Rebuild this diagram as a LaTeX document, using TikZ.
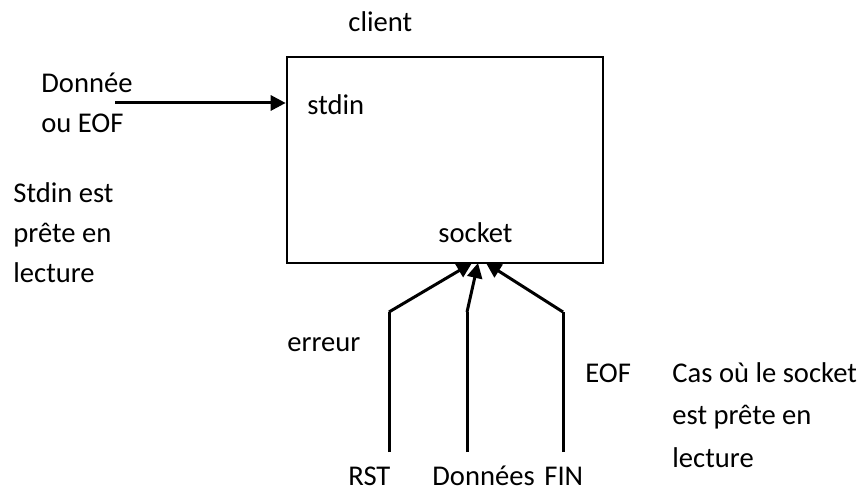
\documentclass[tikz,border=0pt]{standalone}
\usepackage{fontspec}
\setmainfont{Carlito}
\usetikzlibrary{arrows.meta}
\begin{document}
\begin{tikzpicture}[x=0.5pt,y=-0.5pt,
  lbl/.style={anchor=base west,inner sep=0pt,font=\fontsize{14.3}{17}\selectfont},
  frame/.style={draw,line width=1.3pt,minimum width=158pt,minimum height=103pt,inner sep=0pt},
  arr/.style={line width=1.5pt,-{Triangle[length=7.5pt,width=7.5pt]}},
  wire/.style={line width=1.5pt}]
\useasboundingbox (0,0) rectangle (865,490);
\node[frame] (box) at (445,160) {};
\node[lbl] (client) at (348,32) {client};
\node[lbl] (stdin) at (307,115) {stdin};
\node[lbl] (socket) at (438,243) {socket};
\node[lbl] (d1) at (41,93) {Donnée};
\node[lbl] (d2) at (41,133) {ou EOF};
\node[lbl] (s1) at (13,203) {Stdin est};
\node[lbl] (s2) at (13,243) {prête en};
\node[lbl] (s3) at (13,283) {lecture};
\node[lbl] (err) at (287,352) {erreur};
\node[lbl] (eof) at (585,383) {EOF};
\node[lbl] (c1) at (672,383) {Cas où le socket};
\node[lbl] (c2) at (672,425) {est prête en};
\node[lbl] (c3) at (672,467) {lecture};
\node[lbl] (rst) at (348,485) {RST};
\node[lbl] (don) at (432,485) {Données};
\node[lbl] (fin) at (544,485) {FIN};
\coordinate (inD) at (115,103);
\draw[arr] (inD) -- (inD -| box.west);
\coordinate (a0) at (389,452);
\coordinate (a1) at (389,312);
\coordinate (b0) at (467,452);
\coordinate (b1) at (467,312);
\coordinate (c0) at (563,452);
\coordinate (c1p) at (563,312);
\coordinate (ta) at (472,263);
\coordinate (tb) at (478,263);
\coordinate (tc) at (486,263);
\draw[wire] (a0) -- (a1);
\draw[arr] (a1) -- (ta);
\draw[wire] (b0) -- (b1);
\draw[arr] (b1) -- (tb);
\draw[wire] (c0) -- (c1p);
\draw[arr] (c1p) -- (tc);
\end{tikzpicture}
\end{document}
